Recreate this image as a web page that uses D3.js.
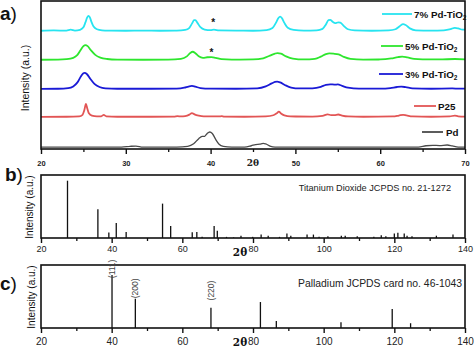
<!DOCTYPE html>
<html><head><meta charset="utf-8">
<script src="https://cdn.jsdelivr.net/npm/d3@7"></script>
<style>body{margin:0;background:#fff}svg{display:block;font-family:"Liberation Sans",Arial,sans-serif}</style>
</head><body>
<svg id="c" width="474" height="347"></svg>
<script>
// ---------- DATA ----------
const seriesNames = ["7% Pd-TiO2", "5% Pd-TiO2", "3% Pd-TiO2", "P25", "Pd"];
const seriesOffsets = [79.7, 60.1, 40.5, 21.6, 1.0];
const s7 = [[20,0.2],[21.5,0.4],[23,0.3],[23.5,0.9],[24,0.3],[24.6,0.8],[25.0,2.5],[25.25,6],[25.45,9.2],[25.6,10.3],[25.75,9.4],[25.95,6.2],[26.2,3],[26.6,1.2],[27.2,0.5],[28,0.3],[30,0.2],[32,0.3],[34,0.2],[36,0.3],[37.0,0.8],[37.5,2.2],[37.8,5],[38.05,7.3],[38.2,7.4],[38.45,5.5],[38.8,2.6],[39.3,1],[40.0,0.6],[40.4,0.9],[41,0.4],[43,0.3],[45,0.2],[46.6,0.6],[47.3,2],[47.7,5.5],[48.0,8.8],[48.2,9.7],[48.4,8.8],[48.7,5.5],[49.1,2.2],[49.8,0.8],[51,0.3],[52.5,0.5],[53.2,1.5],[53.6,4.5],[53.9,7.4],[54.1,7.6],[54.4,6.2],[54.7,5.3],[55.05,5.9],[55.3,5.7],[55.7,3.5],[56.2,1.2],[57,0.4],[59,0.2],[61,0.4],[61.8,1.2],[62.3,3.3],[62.7,4.7],[63.0,4.1],[63.5,1.8],[64.2,0.5],[66,0.3],[67.5,0.5],[68.3,1.3],[68.8,2.2],[69.2,1.8],[69.7,0.9],[70,1.0]];
const s5 = [[20,0.2],[22,0.3],[23,0.6],[23.8,1.5],[24.3,3.5],[24.7,7],[25.0,9.4],[25.25,10.1],[25.5,9.4],[25.9,6.5],[26.4,3.5],[27.0,1.6],[27.8,0.7],[29,0.3],[32,0.2],[35,0.3],[36.5,0.8],[37.2,2.5],[37.6,4.8],[37.9,5.6],[38.2,4.6],[38.6,2.5],[39.1,1.5],[39.6,1.9],[40.1,2],[40.6,1.5],[41.3,0.6],[42.5,0.3],[45,0.4],[46.2,1.2],[47.0,3],[47.6,4.4],[47.9,4.7],[48.3,4.3],[48.9,2.5],[49.7,1.0],[51,0.4],[52.3,0.8],[53.0,2.3],[53.6,4.0],[54.0,4.5],[54.5,4.3],[55.1,3.8],[55.7,2.2],[56.5,0.8],[58,0.3],[60,0.4],[61.3,1.1],[62.1,2],[62.6,2.3],[63.2,1.8],[64.0,0.8],[65,0.5],[67,0.4],[68.8,0.7],[70,0.5]];
const s3 = [[20,0.1],[22,0.2],[23.2,0.6],[23.8,1.8],[24.3,4.5],[24.7,8.5],[25.0,10.7],[25.15,11],[25.4,10.2],[25.8,7],[26.3,3.5],[26.9,1.4],[27.6,0.5],[29,0.2],[33,0.2],[36,0.3],[36.9,0.9],[37.4,1.7],[37.8,2.1],[38.2,1.6],[38.8,0.7],[40,0.3],[43,0.2],[45.5,0.5],[46.5,1.8],[47.2,3.8],[47.6,4.8],[47.85,5],[48.2,4.5],[48.8,2.6],[49.5,1.0],[50.5,0.4],[52,0.5],[53,1.5],[53.6,2.8],[54.1,3.2],[54.6,3.0],[55.0,3.1],[55.5,2.2],[56.2,0.9],[57.5,0.3],[60,0.3],[61.2,0.7],[62.0,1.4],[62.5,1.6],[63.0,1.3],[63.8,0.5],[66,0.2],[68.5,0.4],[69.3,0.3],[70,0.3]];
const sP25 = [[20,0.1],[23,0.2],[24.5,0.5],[24.9,1.5],[25.1,4.5],[25.3,8.8],[25.45,6],[25.65,2.5],[26,0.9],[26.6,0.4],[27.1,0.5],[27.4,1.4],[27.7,0.5],[29,0.2],[33,0.2],[35.7,0.3],[36.1,0.6],[36.5,0.4],[37.0,0.6],[37.5,1.6],[37.8,2.7],[38.1,1.8],[38.6,0.9],[39.2,0.4],[41,0.4],[41.3,0.6],[41.6,0.3],[44,0.2],[46.5,0.5],[47.4,1.2],[47.8,2.5],[48.05,3.7],[48.3,2.4],[48.7,1.1],[49.4,0.4],[52,0.3],[53.2,0.8],[53.8,1.8],[54.2,1.3],[54.6,1.3],[55.05,1.7],[55.5,1],[56.2,0.4],[58,0.2],[61.5,0.4],[62.2,1.0],[62.7,1.5],[63.1,1.1],[63.8,0.4],[66,0.2],[68.2,0.4],[68.8,1.0],[69.2,0.5],[70,0.3]];
const sPd = [[20,0.3],[25,0.2],[29.5,0.3],[30.5,0.8],[31.2,1.0],[32,0.3],[36,0.3],[37.3,0.8],[38,2.5],[38.6,6],[39.0,7.5],[39.3,7.6],[39.6,9.5],[39.9,10.5],[40.2,9.5],[40.6,5.5],[41.0,2.2],[41.5,0.8],[42.5,0.3],[44,0.3],[44.8,1.2],[45.3,2],[45.8,2.3],[46.2,2.8],[46.5,2.4],[47.0,1],[47.6,0.3],[55,0.2],[64.5,0.3],[65.4,1.2],[66.2,1.5],[67,1.3],[67.9,1.7],[68.5,1.1],[69.2,0.3],[70,0.2]];
const seriesData = [s7, s5, s3, sP25, sPd];
const starMarks = [[40.3, 86.5], [40.1, 66.2]];
const ticksA = [20, 30, 40, 50, 60, 70];
const minorA = [25, 35, 45, 55, 65];
// reference patterns: [2theta, relative intensity]
const tio2Ref = [[27.5,100],[36.1,50],[39.2,9.6],[41.3,26],[44.1,10.5],[54.4,60],[56.7,21],[62.8,10],[64.1,10.5],[65.6,2],[69.0,21],[69.9,12.5],[72.5,2],[74.5,1],[76.6,4],[79.9,2],[82.3,6],[84.3,4],[87.5,2],[89.6,8],[90.7,4],[95.3,6],[97.1,6],[98.7,2],[101.2,3],[105.0,4],[106.1,4],[109.5,3],[114.2,2],[116.3,5],[117.6,3],[120.0,8],[121.0,9],[122.8,8],[123.6,4],[125.0,3],[131.9,4],[136.6,6]];
const pdRef = [[40.1,100],[46.7,55],[68.1,38],[82.1,49],[86.6,13],[104.9,11],[119.4,36],[124.6,9]];
const pdLabels = [[40.1,"(111)",94],[46.7,"(200)",56],[68.1,"(220)",52]];
const ticksBC = [20, 40, 60, 80, 100, 120, 140];
const minorBC = [30, 50, 70, 90, 110, 130];
const colors = ["#27e4f0", "#2ee62e", "#1a1ad6", "#e25555", "#4a4a4a"];

// ---------- DRAW ----------
const svg = d3.select("#c");
const L = 41, R = 465;
const xA = d3.scaleLinear().domain([20,70]).range([L,R]);
const yA = d3.scaleLinear().domain([0,100]).range([149,1]);
const xB = d3.scaleLinear().domain([20,140]).range([L,R]);
const yB = d3.scaleLinear().domain([0,100]).range([238,180.7]);
const yC = d3.scaleLinear().domain([0,100]).range([328,275]);

svg.append("defs").append("clipPath").attr("id","clipA")
  .append("rect").attr("x",L).attr("y",1).attr("width",R-L).attr("height",148);

// Panel a curves
const gA = svg.append("g").attr("clip-path","url(#clipA)");
seriesData.forEach((d,i)=>{
  const off = seriesOffsets[i];
  const line = d3.line().x(p=>xA(p[0])).y(p=>yA(p[1]+off)).curve(d3.curveMonotoneX);
  gA.append("path").attr("d", line(d)).attr("fill","none")
    .attr("stroke", colors[i]).attr("stroke-width", i===4?1.3:1.8).attr("stroke-linejoin","round");
});
// stars
svg.selectAll("text.star").data(starMarks).join("text").attr("class","star")
  .attr("x", d=>xA(d[0])).attr("y", d=>yA(d[1])+5).attr("text-anchor","middle")
  .attr("font-size",10).attr("font-weight","bold").attr("fill","#111").text("*");

// axis frame
function axisFrame(x, yBase, top, major, minor, labelY, labelFont){
  const ax = svg.append("g").attr("transform",`translate(0,${yBase})`)
    .call(d3.axisBottom(x).tickValues(major).tickSize(5).tickFormat(d3.format("d")));
  ax.select(".domain").remove();
  ax.selectAll(".tick line").attr("stroke","#111").attr("stroke-width",1.4);
  ax.selectAll(".tick text").attr("y", labelY).attr("dy",0).attr("fill","#222")
    .attr("font-family",'"Liberation Sans",Arial,sans-serif')
    .attr("font-size", labelFont.size).attr("font-weight", labelFont.weight);
  const mn = svg.append("g").attr("transform",`translate(0,${yBase})`)
    .call(d3.axisBottom(x).tickValues(minor).tickSize(3).tickFormat(""));
  mn.select(".domain").remove();
  mn.selectAll(".tick line").attr("stroke","#111").attr("stroke-width",1.3);
  svg.append("rect").attr("x",L).attr("y",top).attr("width",R-L).attr("height",yBase-top)
    .attr("fill","none").attr("stroke","#111").attr("stroke-width",1.6);
}
axisFrame(xA, 149, 1, ticksA, minorA, 17, {size:7.5, weight:"bold"});
svg.append("text").attr("x",253).attr("y",166).attr("text-anchor","middle")
  .attr("font-family",'"DejaVu Serif",serif').attr("font-weight","bold").attr("font-size",9).attr("fill","#222").text("2θ");

// legend
const legendLayout = [[382,412,14,414],[381,403,46,405],[379,403,74,405],[414,436,106,438],[422,443,132,446]];
seriesNames.forEach((n,i)=>{
  const [x1,x2,y,tx] = legendLayout[i];
  svg.append("line").attr("x1",x1).attr("x2",x2).attr("y1",y).attr("y2",y)
    .attr("stroke",colors[i]).attr("stroke-width",1.8);
  const t = svg.append("text").attr("x",tx).attr("y",y+3.5).attr("font-size",9.8)
    .attr("font-weight","bold").attr("fill","#111");
  if (n.endsWith("TiO2")) {
    t.append("tspan").text(n.slice(0,-1));
    t.append("tspan").attr("font-size",6.5).attr("dy",2.5).text("2");
  } else t.text(n);
});

// panel labels
function panelLabel(ch, x, y){
  const t = svg.append("text").attr("x",x).attr("y",y).attr("fill","#111");
  t.append("tspan").attr("font-size",19).attr("font-weight","bold").text(ch);
  t.append("tspan").attr("font-size",19).attr("font-weight","normal").text(")");
}
panelLabel("a",0,20); panelLabel("b",5,181); panelLabel("c",0,290);

function yLabel(x, cy, size){
  svg.append("text").attr("transform",`translate(${x},${cy}) rotate(-90)`)
    .attr("text-anchor","middle").attr("font-size",size).attr("fill","#111").text("Intensity (a.u.)");
}
yLabel(28.5, 78, 10.5); yLabel(33, 207, 10); yLabel(35, 297, 10);

// Panel b
svg.selectAll("line.tio2").data(tio2Ref).join("line").attr("class","tio2")
  .attr("x1",d=>xB(d[0])).attr("x2",d=>xB(d[0])).attr("y1",yB(0)).attr("y2",d=>yB(d[1]))
  .attr("stroke","#111").attr("stroke-width",1.3);
axisFrame(xB, 238, 175, ticksBC, minorBC, 14, {size:9, weight:"normal"});
svg.append("text").attr("x",240).attr("y",256).attr("text-anchor","middle")
  .attr("font-family",'"DejaVu Serif",serif').attr("font-weight","bold").attr("font-size",10.5).attr("fill","#111").text("2θ");
svg.append("text").attr("x",451).attr("y",191).attr("text-anchor","end").attr("font-size",9.2)
  .attr("fill","#222").text("Titanium Dioxide JCPDS no. 21-1272");

// Panel c
svg.selectAll("line.pd").data(pdRef).join("line").attr("class","pd")
  .attr("x1",d=>xB(d[0])).attr("x2",d=>xB(d[0])).attr("y1",yC(0)).attr("y2",d=>yC(d[1]))
  .attr("stroke","#111").attr("stroke-width",1.3);
axisFrame(xB, 328, 265, ticksBC, minorBC, 17, {size:10, weight:"normal"});
svg.selectAll("text.hkl").data(pdLabels).join("text").attr("class","hkl")
  .attr("transform",d=>`translate(${xB(d[0])+3},${yC(d[2])}) rotate(-90)`)
  .attr("font-size",8.5).attr("fill","#444").text(d=>d[1]);
svg.append("text").attr("x",240).attr("y",346).attr("text-anchor","middle")
  .attr("font-family",'"DejaVu Serif",serif').attr("font-weight","bold").attr("font-size",10.5).attr("fill","#111").text("2θ");
svg.append("text").attr("x",462).attr("y",287).attr("text-anchor","end").attr("font-size",10.4)
  .attr("fill","#222").text("Palladium JCPDS card no. 46-1043");
</script>
</body></html>
